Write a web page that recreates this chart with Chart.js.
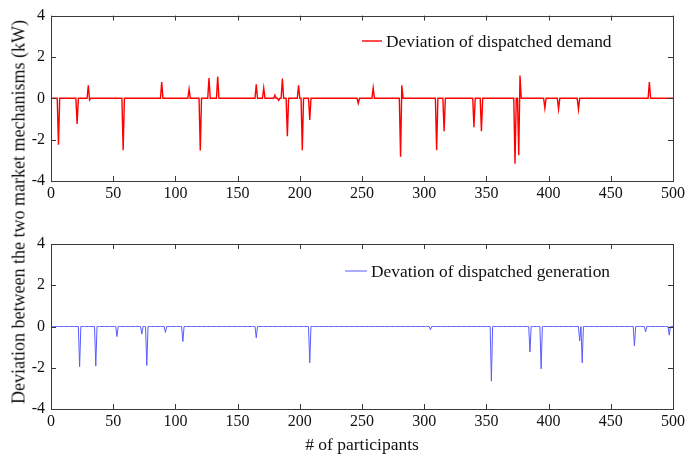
<!DOCTYPE html>
<html>
<head>
<meta charset="utf-8">
<script src="https://cdn.jsdelivr.net/npm/chart.js@4.4.1/dist/chart.umd.min.js"></script>
<style>
  body { margin: 0; background: #fff; }
  #lienzo { position: relative; width: 692px; height: 457px; font-family: "Liberation Serif", "Times New Roman", serif; }
  canvas { position: absolute; left: 0; }
  #tituloY { position: absolute; left: 19px; top: 212px; transform: translate(-50%, -50%) rotate(-90deg); white-space: nowrap; font-size: 18px; color: #111; }
  #tituloX { position: absolute; left: 362px; top: 444px; transform: translate(-50%, -50%); white-space: nowrap; font-size: 17.5px; color: #111; }
</style>
</head>
<body>
<div id="lienzo">
  <canvas id="graficaDemanda" width="692" height="215" style="top:0"></canvas>
  <canvas id="graficaGeneracion" width="692" height="215" style="top:228px"></canvas>
  <div id="tituloY">Deviation between the two market mechanisms (kW)</div>
  <div id="tituloX"># of participants</div>
</div>
<script>
// participants and spike values (all others are 0)
const numParticipantes = 500;
const xTicks = [0, 50, 100, 150, 200, 250, 300, 350, 400, 450, 500];
const yTicks = [-4, -2, 0, 2, 4];

const demandaIdx = [6, 21, 30, 31, 58, 89, 111, 120, 127, 134, 165, 171, 180, 183, 186, 190, 199, 202, 208, 247, 259, 281, 282, 310, 316, 340, 346, 373, 376, 377, 397, 408, 424, 481];
const demandaVal = [-2.24, -1.24, 0.63, -0.08, -2.51, 0.78, 0.44, -2.53, 0.98, 1.05, 0.68, 0.5, 0.15, -0.1, 0.95, -1.84, 0.63, -2.51, -1.05, -0.24, 0.5, -2.83, 0.63, -2.51, -1.59, -1.4, -1.59, -3.17, -2.75, 1.1, -0.48, -0.52, -0.54, 0.79];

const generacionIdx = [23, 36, 53, 73, 77, 92, 106, 165, 208, 305, 354, 385, 394, 425, 427, 469, 478, 497];
const generacionVal = [-1.95, -1.92, -0.49, -0.37, -1.89, -0.29, -0.73, -0.55, -1.76, -0.16, -2.65, -1.24, -2.05, -0.7, -1.76, -0.94, -0.26, -0.42];

const fuente = '"Liberation Serif", "Times New Roman", serif';

function construirSerie(idx, val) {
    let serie = [];
    for (let i = 1; i <= numParticipantes; i++) serie.push({ x: i, y: 0 });
    idx.forEach((p, k) => { serie[p - 1].y = val[k]; });
    return serie;
}

// Marco tipo MATLAB con ticks hacia adentro
const marcoPlugin = {
    id: 'marco',
    afterDraw(chart) {
        const { ctx, chartArea: a, scales } = chart;
        ctx.save();
        ctx.strokeStyle = '#3a3a3a';
        ctx.lineWidth = 1;
        ctx.strokeRect(Math.round(a.left) + 0.5, Math.round(a.top) + 0.5, Math.round(a.right - a.left), Math.round(a.bottom - a.top));
        ctx.beginPath();
        xTicks.forEach(v => {
            const px = Math.round(scales.x.getPixelForValue(v)) + 0.5;
            ctx.moveTo(px, a.bottom); ctx.lineTo(px, a.bottom - 5);
            ctx.moveTo(px, a.top); ctx.lineTo(px, a.top + 5);
        });
        yTicks.forEach(v => {
            const py = Math.round(scales.y.getPixelForValue(v)) + 0.5;
            ctx.moveTo(a.left, py); ctx.lineTo(a.left + 5, py);
            ctx.moveTo(a.right, py); ctx.lineTo(a.right - 5, py);
        });
        ctx.stroke();

        // leyenda
        const ley = chart.options.plugins.leyendaPropia;
        ctx.strokeStyle = ley.color;
        ctx.lineWidth = ley.ancho;
        ctx.beginPath();
        ctx.moveTo(ley.x, ley.y); ctx.lineTo(ley.x + ley.largo, ley.y);
        ctx.stroke();
        ctx.fillStyle = '#111';
        ctx.font = '17.4px ' + fuente;
        ctx.textBaseline = 'middle';
        ctx.fillText(ley.texto, ley.x + ley.largo + 4, ley.y + 1);
        ctx.restore();
    }
};

function crearGrafica(id, serie, color, ancho, padTop, leyenda) {
    return new Chart(document.getElementById(id), {
        type: 'line',
        data: { datasets: [{ data: serie, borderColor: color, borderWidth: ancho, pointRadius: 0, tension: 0 }] },
        options: {
            responsive: false,
            animation: false,
            devicePixelRatio: 1,
            layout: { padding: { left: 0, right: 19, top: padTop, bottom: 0 } },
            plugins: { legend: { display: false }, tooltip: { enabled: false }, leyendaPropia: leyenda },
            scales: {
                x: {
                    type: 'linear', min: 0, max: 500,
                    afterBuildTicks: s => { s.ticks = xTicks.map(v => ({ value: v })); },
                    afterFit: s => { s.height = 34; },
                    grid: { display: false, drawTicks: false },
                    border: { display: false },
                    ticks: { padding: 3, color: '#111', font: { family: fuente, size: 16 }, maxRotation: 0 }
                },
                y: {
                    min: -4, max: 4,
                    afterBuildTicks: s => { s.ticks = yTicks.map(v => ({ value: v })); },
                    afterFit: s => { s.width = 51; },
                    grid: { display: false, drawTicks: false },
                    border: { display: false },
                    ticks: { padding: 6, color: '#111', font: { family: fuente, size: 16 } }
                }
            }
        },
        plugins: [marcoPlugin]
    });
}

crearGrafica('graficaDemanda', construirSerie(demandaIdx, demandaVal), '#ff0000', 1.4, 14,
    { x: 362, y: 41, largo: 20, color: '#ff0000', ancho: 1.4, texto: 'Deviation of dispatched demand' });
crearGrafica('graficaGeneracion', construirSerie(generacionIdx, generacionVal), '#5a5aff', 1, 16,
    { x: 345, y: 43, largo: 22, color: '#5a5aff', ancho: 1, texto: 'Devation of dispatched generation' });
</script>
</body>
</html>
